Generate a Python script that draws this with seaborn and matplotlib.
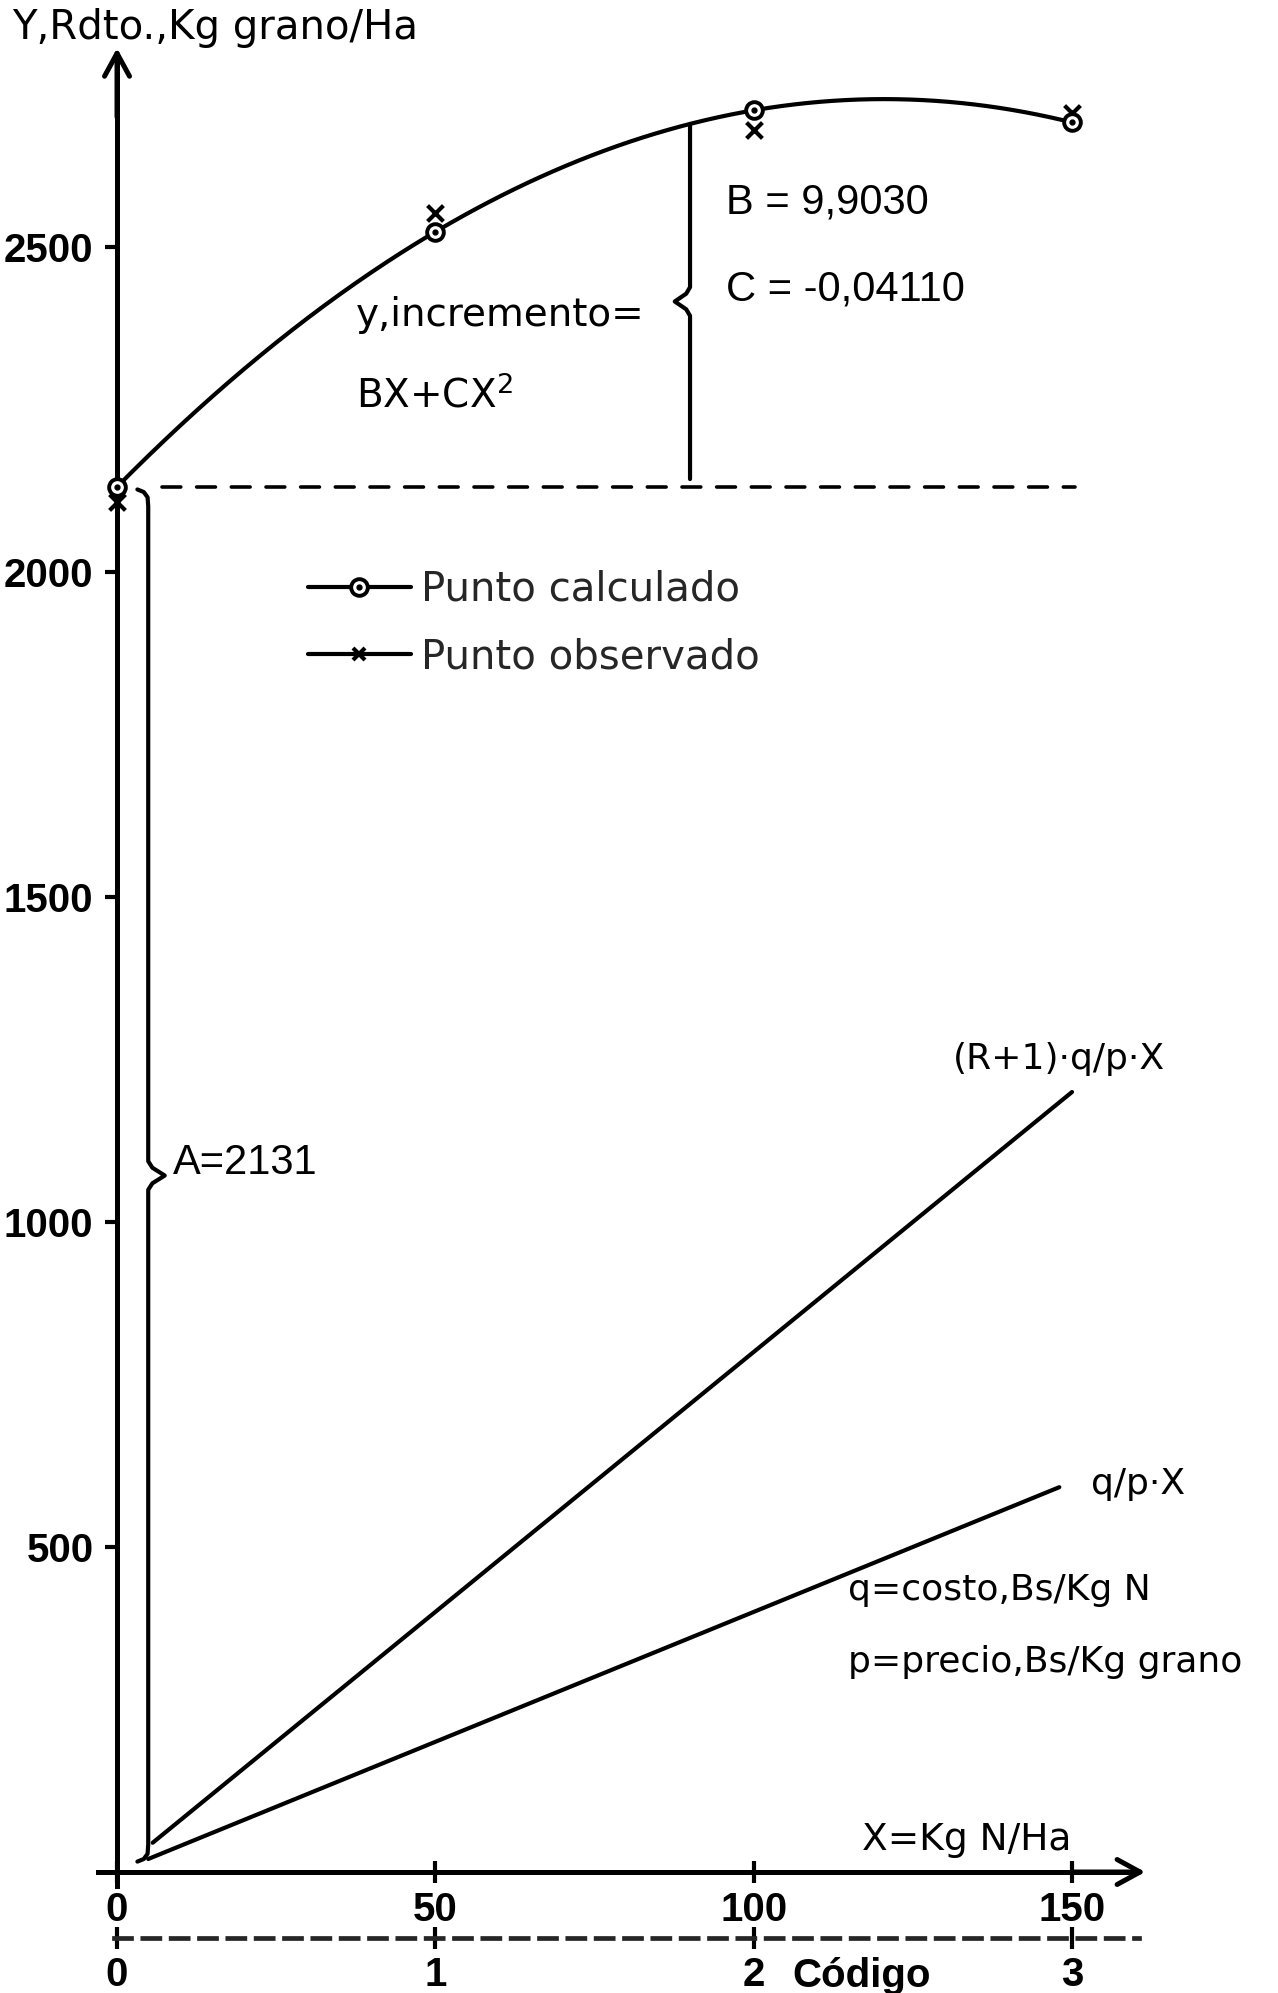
import numpy as np
import pandas as pd
import matplotlib
matplotlib.use("Agg")
import matplotlib.pyplot as plt
from matplotlib.lines import Line2D
from matplotlib.legend_handler import HandlerTuple
import seaborn as sns

# Dosis de nitrógeno (kg N/ha) y su código
dosis_n = [0, 50, 100, 150]
codigo = [0, 1, 2, 3]

# Coeficientes de la función de respuesta  Y = A + B·X + C·X²
coef_a = 2131
coef_b = 9.9030
coef_c = -0.04110

# Rendimientos observados (kg grano/ha)
rend_observado = [2108, 2552, 2680, 2706]

# Rectas de costo q/p·X y (R+1)·q/p·X
recta_qp_x = [4.9, 148]
recta_qp_y = [20, 592]
recta_r1_x = [5.6, 150]
recta_r1_y = [45, 1200]

ytick_vals = [500, 1000, 1500, 2000, 2500]
xtick_vals = [0, 50, 100, 150]


def respuesta(x):
    x = np.asarray(x, dtype=float)
    return coef_a + coef_b * x + coef_c * x ** 2


rend_calculado = respuesta(dosis_n)
x_fino = np.linspace(0, 150, 301)
curva = pd.DataFrame({"X": x_fino, "Y": respuesta(x_fino)})

sns.set_style("white")
plt.rcParams["font.family"] = ["DejaVu Sans"]
BOLD = ["Liberation Sans", "DejaVu Sans"]
SANS = ["Liberation Sans", "DejaVu Sans"]

fig = plt.figure(figsize=(12.78, 19.93), dpi=100)
ax = fig.add_axes([0, 0, 1, 1])
YLIM = (-186.15, 2880)
ax.set_xlim(-18.38, 182.35)
ax.set_ylim(*YLIM)

LW = 3.0
K = "black"

# ejes cartesianos con flechas
for s in ["top", "right"]:
    ax.spines[s].set_visible(False)
for s in ["left", "bottom"]:
    ax.spines[s].set_position(("data", 0))
    ax.spines[s].set_linewidth(3.6)
    ax.spines[s].set_color(K)
ax.spines["left"].set_bounds(-22, 2790)
ax.spines["bottom"].set_bounds(-3, 159)
arrow_kw = dict(arrowstyle="->,head_length=0.55,head_width=0.3", lw=3.6,
                color=K, mutation_scale=30, shrinkA=0, shrinkB=0)
ax.annotate("", xy=(0, 2806), xytext=(0, 2700), arrowprops=arrow_kw)
ax.annotate("", xy=(161.5, 0), xytext=(150, 0), arrowprops=arrow_kw)

ax.set_yticks(ytick_vals)
ax.set_yticklabels([str(v) for v in ytick_vals])
ax.set_xticks(xtick_vals)
ax.set_xticklabels([str(v) for v in xtick_vals])
ax.tick_params(axis="y", left=True, direction="out", length=9, width=3,
               pad=8, labelsize=29, colors=K)
ax.tick_params(axis="x", bottom=True, direction="inout", length=16, width=3,
               pad=6, labelsize=29, colors=K)
for lbl in ax.get_xticklabels() + ax.get_yticklabels():
    lbl.set_fontfamily(BOLD)
    lbl.set_fontweight("bold")
ax.grid(False)

# eje secundario con el código de dosis
frac = (-101 - YLIM[0]) / (YLIM[1] - YLIM[0])
sec = ax.secondary_xaxis(frac, functions=(lambda x: x / 50, lambda c: c * 50))
sec.set_xticks(codigo)
sec.set_xticklabels([str(c) for c in codigo])
sec.tick_params(bottom=True, direction="inout", length=16, width=3, pad=5,
                labelsize=29, colors=K)
for lbl in sec.get_xticklabels():
    lbl.set_fontfamily(BOLD)
    lbl.set_fontweight("bold")
sec.spines["bottom"].set_linewidth(3.4)
sec.spines["bottom"].set_linestyle((0, (3.6, 2.4)))
sec.spines["bottom"].set_bounds(-0.01, 3.21)
ax.text(117, -160, "Código", fontsize=29, family=BOLD, fontweight="bold",
        ha="center", va="center", color=K)

# curva de respuesta y rectas de costo
sns.lineplot(data=curva, x="X", y="Y", ax=ax, color=K, lw=LW, zorder=3)
sns.lineplot(x=recta_r1_x, y=recta_r1_y, ax=ax, color=K, lw=LW)
sns.lineplot(x=recta_qp_x, y=recta_qp_y, ax=ax, color=K, lw=LW)
ax.set_xlabel("")
ax.set_ylabel("")

# nivel A
ax.plot([7, 150.5], [coef_a, coef_a], color=K, lw=2.6, ls=(0, (5.2, 4.4)),
        dash_capstyle="round")

# puntos calculados y observados
sns.scatterplot(x=dosis_n, y=rend_observado, ax=ax, marker="x", s=130,
                color=K, linewidth=3, zorder=5)
ax.plot(dosis_n, rend_calculado, ls="none", marker="o", ms=12, mfc="white",
        mec=K, mew=2.8, zorder=6)
ax.plot(dosis_n, rend_calculado, ls="none", marker="o", ms=3.5, color=K, zorder=7)


def llave(xc, y0, y1, punta, ganchos=False):
    ym = (y0 + y1) / 2
    pts = []
    if ganchos:
        pts += [(xc - 1.7, y1), (xc - 0.7, y1 - 4), (xc - 0.1, y1 - 12), (xc, y1 - 26)]
    else:
        pts += [(xc, y1)]
    pts += [(xc, ym + 22), (xc + 0.25 * punta, ym + 12), (xc + punta, ym),
            (xc + 0.25 * punta, ym - 12), (xc, ym - 22)]
    if ganchos:
        pts += [(xc, y0 + 26), (xc - 0.1, y0 + 12), (xc - 0.7, y0 + 4), (xc - 1.7, y0)]
    else:
        pts += [(xc, y0)]
    px, py = zip(*pts)
    ax.plot(px, py, color=K, lw=LW, solid_joinstyle="round", solid_capstyle="round")
    return ym


# llave del incremento  B·X + C·X²
x_inc = 90
llave(x_inc, coef_a + 12, float(respuesta(x_inc)), -2.4)
# llave del término independiente A
ym_a = llave(4.9, 16, coef_a - 4, 2.6, ganchos=True)

txt = dict(color=K, va="center", ha="left")
ax.text(-16.5, 2837, "Y,Rdto.,Kg grano/Ha", fontsize=29, **txt)
ax.text(117, 49, "X=Kg N/Ha", fontsize=27, **txt)
ax.text(37.5, 2395, "y,incremento=", fontsize=28, **txt)
ax.text(37.5, 2272, r"BX+CX$^{2}$", fontsize=28, **txt)
ax.text(95.6, 2568, "B = 9,9030", fontsize=30, family=SANS, **txt)
ax.text(95.6, 2434, "C = -0,04110", fontsize=30, family=SANS, **txt)
ax.text(8.8, ym_a + 20, "A=2131", fontsize=30, family=SANS, **txt)
ax.text(131.3, 1251, "(R+1)·q/p·X", fontsize=26, **txt)
ax.text(153.0, 597, "q/p·X", fontsize=26, **txt)
ax.text(114.8, 434, "q=costo,Bs/Kg N", fontsize=26, **txt)
ax.text(114.8, 323, "p=precio,Bs/Kg grano", fontsize=26, **txt)

# leyenda
h_calc = (Line2D([], [], color=K, lw=LW, marker="o", ms=12, mfc="white",
                 mec=K, mew=2.8),
          Line2D([], [], ls="none", marker="o", ms=3.5, color=K))
h_obs = Line2D([], [], color=K, lw=LW, marker="x", ms=9, mew=3)
ax.legend([h_calc, h_obs], ["Punto calculado", "Punto observado"],
          handler_map={tuple: HandlerTuple(ndivide=1, pad=0)},
          loc="upper left", bbox_to_anchor=(0.241, 0.714), frameon=False,
          fontsize=29, handlelength=2.55, handletextpad=0.25,
          labelspacing=0.68, borderpad=0, borderaxespad=0)

fig.savefig("out.png", dpi=100, facecolor="white")
